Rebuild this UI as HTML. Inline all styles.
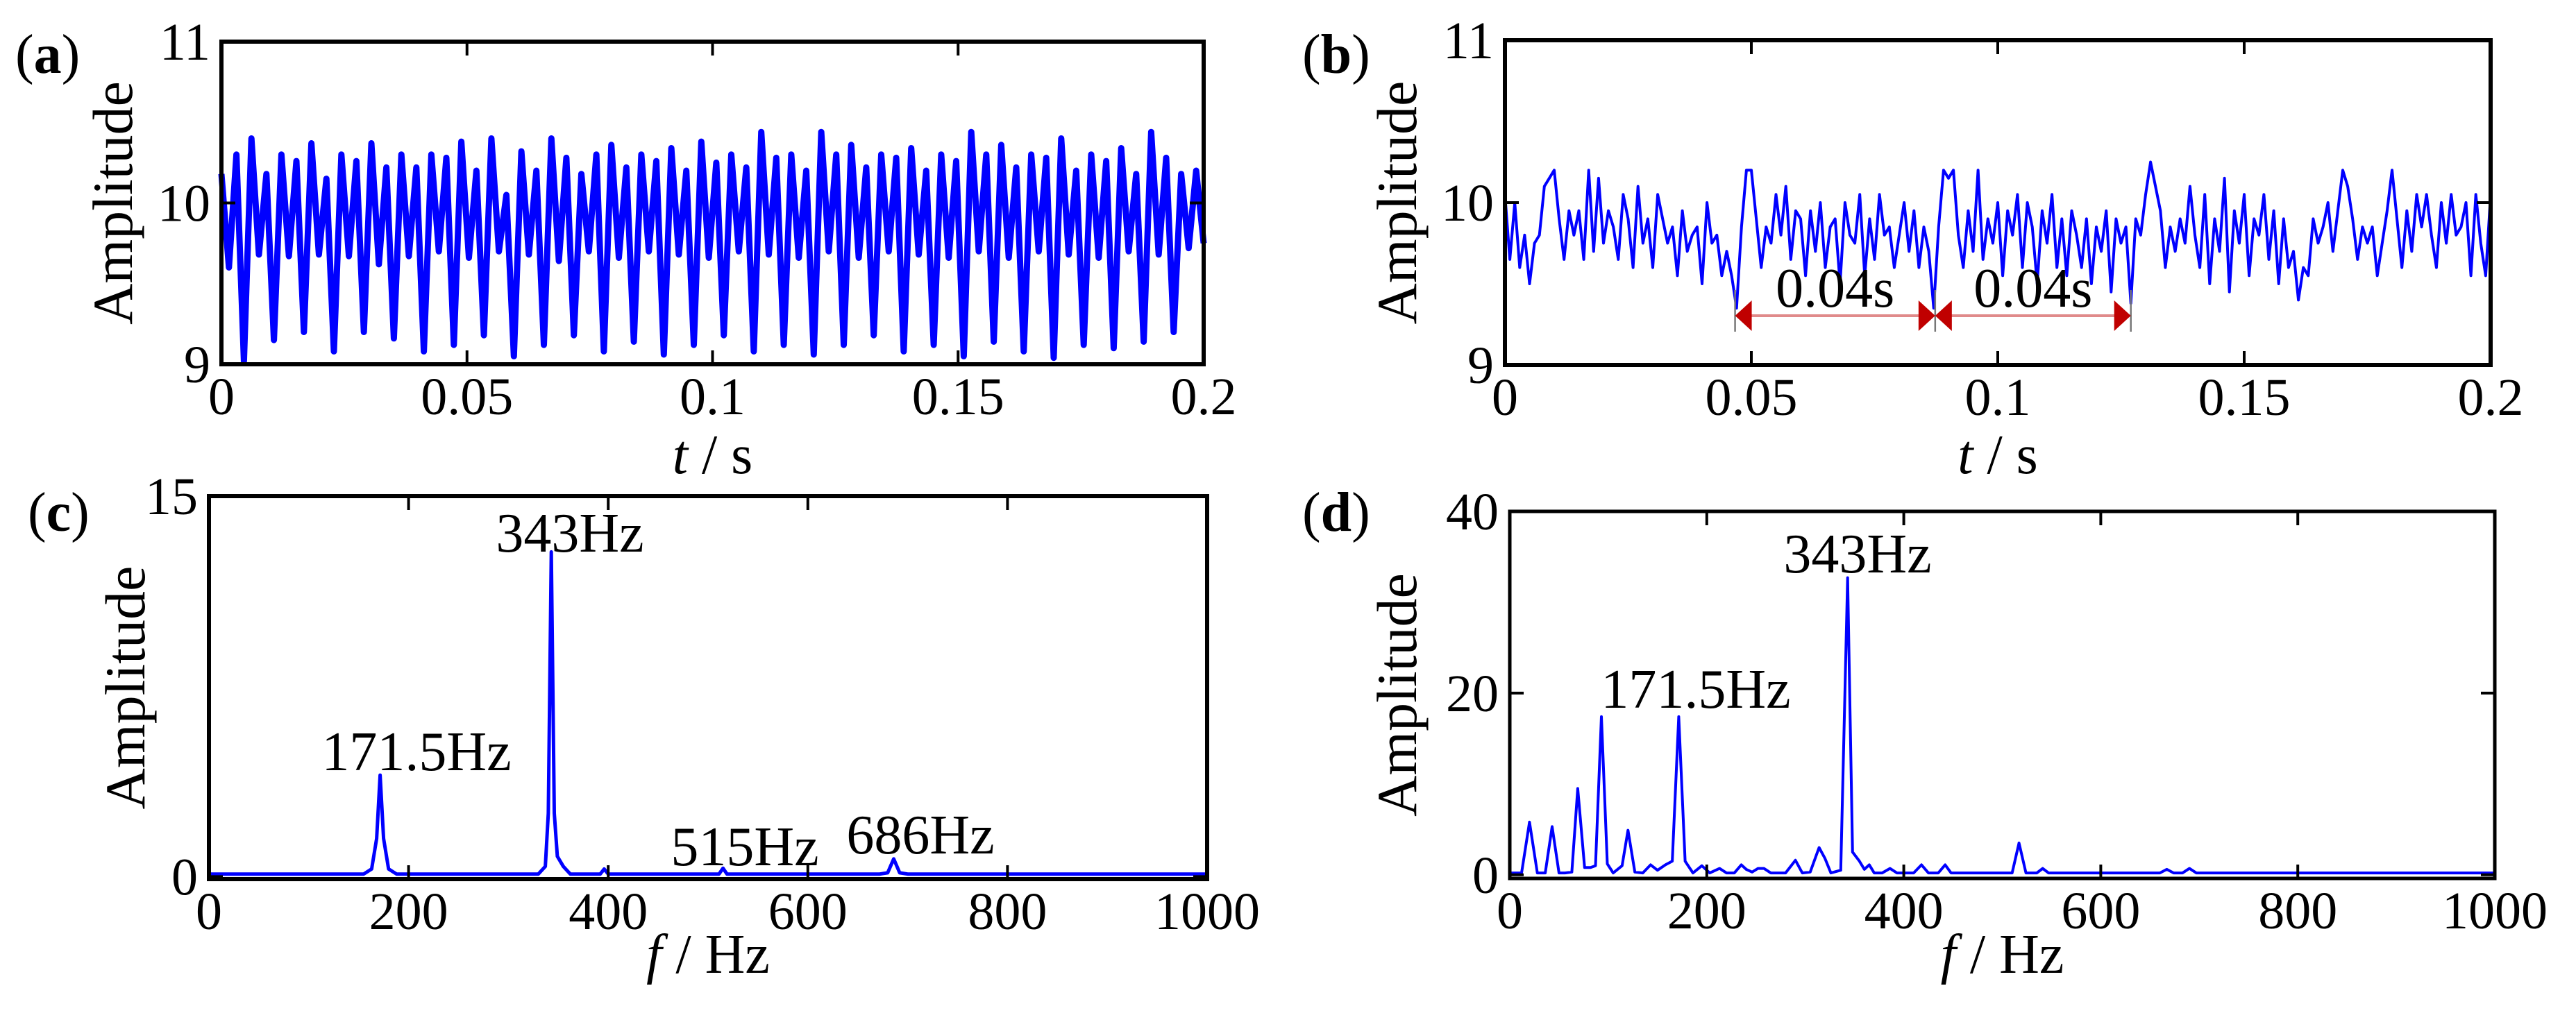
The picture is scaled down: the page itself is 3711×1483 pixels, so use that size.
<!DOCTYPE html>
<html><head><meta charset="utf-8">
<style>
html,body{margin:0;padding:0;background:#fff;}
svg{display:block;font-family:"Liberation Serif",serif;}
</style></head>
<body>
<svg id="fig" width="3711" height="1483" viewBox="0 0 3711 1483" xmlns="http://www.w3.org/2000/svg"></svg>
<script>
// ---------- data ----------
const timeTicks = [0, 0.05, 0.1, 0.15, 0.2];
const timeTickLabels = ["0", "0.05", "0.1", "0.15", "0.2"];
const ampTicksAB = [9, 10, 11];
const ampTickLabelsAB = ["9", "10", "11"];
const freqTicks = [0, 200, 400, 600, 800, 1000];
const freqTickLabels = ["0", "200", "400", "600", "800", "1000"];
const ampTicksC = [0, 15];
const ampTickLabelsC = ["0", "15"];
const ampTicksD = [0, 20, 40];
const ampTickLabelsD = ["0", "20", "40"];

// (a) time signal: peak, deep, peak, mid per cycle
const signalA = [
10.18,9.6,10.3,9.02,10.4,9.68,10.18,9.15,10.3,9.67,10.26,9.2,10.37,9.68,10.15,9.08,
10.3,9.67,10.26,9.2,10.37,9.62,10.22,9.16,10.3,9.67,10.22,9.08,10.3,9.7,10.28,9.12,
10.38,9.66,10.2,9.18,10.4,9.7,10.05,9.05,10.32,9.68,10.2,9.12,10.4,9.64,10.28,9.18,
10.18,9.7,10.3,9.08,10.36,9.66,10.22,9.14,10.3,9.7,10.26,9.06,10.34,9.68,10.2,9.12,
10.38,9.66,10.25,9.18,10.3,9.7,10.22,9.08,10.44,9.68,10.28,9.12,10.3,9.66,10.2,9.06,
10.44,9.7,10.3,9.12,10.36,9.66,10.22,9.18,10.3,9.7,10.28,9.08,10.34,9.68,10.2,9.12,
10.3,9.66,10.26,9.05,10.44,9.7,10.3,9.14,10.36,9.66,10.22,9.08,10.3,9.7,10.28,9.04,
10.4,9.68,10.2,9.12,10.3,9.66,10.26,9.1,10.34,9.7,10.18,9.14,10.44,9.68,10.28,9.2,
10.18,9.72,10.2,9.75
];
// (b) time signal, sampled every 1 ms
const signalB = [
10.05,9.65,10.0,9.6,9.8,9.5,9.75,9.8,10.1,10.15,
10.2,9.9,9.65,9.95,9.8,9.95,9.65,10.2,9.7,10.15,
9.75,9.95,9.85,9.65,10.05,9.9,9.6,10.1,9.75,9.9,
9.6,10.05,9.9,9.75,9.85,9.55,9.95,9.7,9.8,9.85,
9.5,10.0,9.75,9.8,9.55,9.7,9.55,9.35,9.85,10.2,
10.2,9.9,9.6,9.85,9.75,10.05,9.8,10.1,9.65,9.95,
9.9,9.55,9.95,9.7,10.0,9.6,9.85,9.9,9.5,10.0,
9.8,9.75,10.05,9.55,9.9,9.65,10.05,9.8,9.85,9.6,
9.8,10.0,9.7,9.95,9.6,9.85,9.7,9.35,9.85,10.2,
10.15,10.2,9.8,9.6,9.95,9.7,10.2,9.65,9.9,9.75,
10.0,9.55,9.95,9.8,10.05,9.6,10.0,9.85,9.5,9.95,
9.75,10.05,9.6,9.9,9.55,9.95,9.8,9.6,9.9,9.5,
9.85,9.7,9.95,9.45,9.9,9.75,9.85,9.38,9.9,9.8,
10.05,10.25,10.1,9.95,9.6,9.85,9.7,9.9,9.75,10.1,
9.8,9.6,10.05,9.5,9.9,9.7,10.15,9.45,9.95,9.75,
10.05,9.55,9.9,9.8,10.05,9.65,9.95,9.5,9.9,9.6,
9.7,9.4,9.6,9.55,9.9,9.75,9.85,10.0,9.7,9.95,
10.2,10.1,9.9,9.65,9.85,9.75,9.85,9.55,9.75,9.95,
10.2,9.9,9.6,9.95,9.7,10.05,9.85,10.05,9.8,9.6,
10.0,9.75,10.05,9.8,9.85,10.0,9.55,10.05,9.75,9.55,10.05
];
// (c) spectrum
const freqC = [0,155,163,168,171.5,175,180,188,330,337,340,343,346,349,355,362,392,396,400,505,511,515,519,525,672,680,686,692,700,1000];
const ampC  = [0.1,0.1,0.3,1.5,4.0,1.5,0.3,0.1,0.1,0.4,2.5,12.8,2.5,0.8,0.4,0.1,0.1,0.3,0.1,0.1,0.1,0.33,0.1,0.1,0.1,0.15,0.7,0.15,0.1,0.1];
// (d) spectrum
const freqD = [
0,12,20,28,36,43,50,56,63,69,
76,82,87,93,99,105,114,120,127,135,
143,150,158,165,171.5,178,186,195,203,213,
220,228,235,240,246,252,258,265,272,280,
290,297,305,314,320,326,336,343,348,355,
360,365,370,378,386,393,400,410,418,425,
435,442,448,510,517,524,535,541,547,660,
667,674,683,690,697,1000];
const ampD = [
0.2,0.2,5.8,0.2,0.2,5.3,0.2,0.2,0.3,9.5,
0.8,0.8,1.0,17.4,1.2,0.2,1.0,4.9,0.3,0.2,
1.1,0.5,1.1,1.5,17.4,1.5,0.2,1.0,0.2,0.7,
0.2,0.2,1.1,0.6,0.3,0.7,0.7,0.2,0.2,0.2,
1.6,0.2,0.3,3.0,1.8,0.2,0.5,32.7,2.5,1.5,
0.6,1.1,0.2,0.2,0.7,0.2,0.2,0.2,1.1,0.2,
0.2,1.1,0.2,0.2,3.5,0.2,0.2,0.7,0.2,0.2,
0.6,0.2,0.2,0.7,0.2,0.2];

// ---------- drawing ----------
const NS = "http://www.w3.org/2000/svg";
const svg = document.getElementById("fig");
function mk(tag, attrs, parent, text) {
  const e = document.createElementNS(NS, tag);
  for (const k in attrs) e.setAttribute(k, attrs[k]);
  if (text !== undefined) e.textContent = text;
  (parent || svg).appendChild(e);
  return e;
}
function scale(d0, d1, r0, r1) { return v => r0 + (v - d0) * (r1 - r0) / (d1 - d0); }

function panel(cfg) {
  const g = mk("g", {});
  
  
  const xs = scale(cfg.xmin, cfg.xmax, cfg.L, cfg.R);
  const ys = scale(cfg.ymin, cfg.ymax, cfg.B, cfg.T);
  let d = "";
  for (let i = 0; i < cfg.ys.length; i++) {
    d += (i ? "L" : "M") + xs(cfg.xs[i]).toFixed(1) + "," + ys(cfg.ys[i]).toFixed(1);
  }
  const line = mk("path", {d: d, fill: "none", stroke: "#0000ff", "stroke-width": cfg.lw, "stroke-linejoin": "round"}, g);
  
  
  const fr = mk("rect", {x: cfg.L, y: cfg.T, width: cfg.R - cfg.L, height: cfg.B - cfg.T, fill: "none", stroke: "#000", "stroke-width": cfg.fw}, g);
  
  
  cfg.xt.forEach((v, i) => {
    const x = xs(v);
    const t1 = mk("line", {x1: x, x2: x, y1: cfg.B, y2: cfg.B - 20, stroke: "#000", "stroke-width": 4}, g);
    
    
    const t2 = mk("line", {x1: x, x2: x, y1: cfg.T, y2: cfg.T + 20, stroke: "#000", "stroke-width": 4}, g);
    
    
    const lab = mk("text", {x: x, y: cfg.B + 72, "font-size": 76, "text-anchor": "middle"}, g, cfg.xl[i]);
    
    
  });
  cfg.yt.forEach((v, i) => {
    const y = ys(v);
    const t1 = mk("line", {x1: cfg.L, x2: cfg.L + 20, y1: y, y2: y, stroke: "#000", "stroke-width": 4}, g);
    
    
    const t2 = mk("line", {x1: cfg.R, x2: cfg.R - 20, y1: y, y2: y, stroke: "#000", "stroke-width": 4}, g);
    
    
    const lab = mk("text", {x: cfg.L - 16, y: y + 26, "font-size": 76, "text-anchor": "end"}, g, cfg.yl[i]);
    
    
  });
  const yt = mk("text", {x: 0, y: 0, "font-size": 82, "text-anchor": "middle", transform: "translate(" + cfg.ytx + "," + ((cfg.T + cfg.B) / 2) + ") rotate(-90)"}, g, "Amplitude");
  
  
  const xt = mk("text", {x: (cfg.L + cfg.R) / 2, y: cfg.xty, "font-size": 80, "text-anchor": "middle"}, g);
  
  
  mk("tspan", {"font-style": "italic"}, xt, cfg.xvar);
  mk("tspan", {}, xt, " / " + cfg.xunit);
  const pl = mk("text", {x: cfg.plx, y: cfg.ply, "font-size": 80}, g);
  
  
  mk("tspan", {}, pl, "(");
  mk("tspan", {"font-weight": "bold"}, pl, cfg.letter);
  mk("tspan", {}, pl, ")");
  return {g, xs, ys};
}

const dtA = 0.2 / (signalA.length - 1);
const tA = signalA.map((_, i) => i * dtA);
const tB = signalB.map((_, i) => i * 0.001);

const pa = panel({name: "panel-a", L: 319, R: 1734, T: 60, B: 525, xmin: 0, xmax: 0.2, ymin: 9, ymax: 11,
  xs: tA, ys: signalA, lw: 9, fw: 6, xt: timeTicks, xl: timeTickLabels, yt: ampTicksAB, yl: ampTickLabelsAB,
  ytx: 190, xty: 682, xvar: "t", xunit: "s", plx: 22, ply: 105, letter: "a"});

const pb = panel({name: "panel-b", L: 2168, R: 3588, T: 58, B: 526, xmin: 0, xmax: 0.2, ymin: 9, ymax: 11,
  xs: tB, ys: signalB, lw: 4, fw: 6, xt: timeTicks, xl: timeTickLabels, yt: ampTicksAB, yl: ampTickLabelsAB,
  ytx: 2040, xty: 682, xvar: "t", xunit: "s", plx: 1876, ply: 105, letter: "b"});

const pc = panel({name: "panel-c", L: 301, R: 1739, T: 715, B: 1267, xmin: 0, xmax: 1000, ymin: -0.1, ymax: 15,
  xs: freqC, ys: ampC, lw: 5, fw: 6, xt: freqTicks, xl: freqTickLabels, yt: ampTicksC, yl: ampTickLabelsC,
  ytx: 208, xty: 1402, xvar: "f", xunit: "Hz", plx: 40, ply: 765, letter: "c"});

const pd = panel({name: "panel-d", L: 2175, R: 3594, T: 737, B: 1266, xmin: 0, xmax: 1000, ymin: -0.4, ymax: 40,
  xs: freqD, ys: ampD, lw: 4, fw: 5, xt: freqTicks, xl: freqTickLabels, yt: ampTicksD, yl: ampTickLabelsD,
  ytx: 2040, xty: 1402, xvar: "f", xunit: "Hz", plx: 1876, ply: 765, letter: "d"});

const annC = [["171.5Hz", 600, 1110], ["343Hz", 821, 795], ["515Hz", 1073, 1247], ["686Hz", 1326, 1230]];
annC.forEach(a => {
  const t = mk("text", {x: a[1], y: a[2], "font-size": 80, "text-anchor": "middle"}, pc.g, a[0]);
  
  
});
const annD = [["171.5Hz", 2443, 1020], ["343Hz", 2676, 825]];
annD.forEach(a => {
  const t = mk("text", {x: a[1], y: a[2], "font-size": 80, "text-anchor": "middle"}, pd.g, a[0]);
  
  
});

const periodTimes = [0.0467, 0.0873, 0.1270];
const ag = mk("g", {}, pb.g);


const py = 455;
periodTimes.forEach(t => {
  const x = pb.xs(t);
  const v = mk("line", {x1: x, x2: x, y1: 418, y2: 478, stroke: "#777", "stroke-width": 2.5}, ag);
  
  
});
for (let i = 0; i < periodTimes.length - 1; i++) {
  const x1 = pb.xs(periodTimes[i]), x2 = pb.xs(periodTimes[i + 1]);
  const l = mk("line", {x1: x1 + 20, x2: x2 - 20, y1: py, y2: py, stroke: "#e08a8a", "stroke-width": 4}, ag);
  
  
  const h1 = mk("polygon", {points: x1 + "," + py + " " + (x1 + 24) + "," + (py - 22) + " " + (x1 + 24) + "," + (py + 22), fill: "#c00000"}, ag);
  
  
  const h2 = mk("polygon", {points: x2 + "," + py + " " + (x2 - 24) + "," + (py - 22) + " " + (x2 - 24) + "," + (py + 22), fill: "#c00000"}, ag);
  
  
  const tx = mk("text", {x: (x1 + x2) / 2, y: 442, "font-size": 80, "text-anchor": "middle"}, ag, "0.04s");
  
  
}
</script>
</body></html>
